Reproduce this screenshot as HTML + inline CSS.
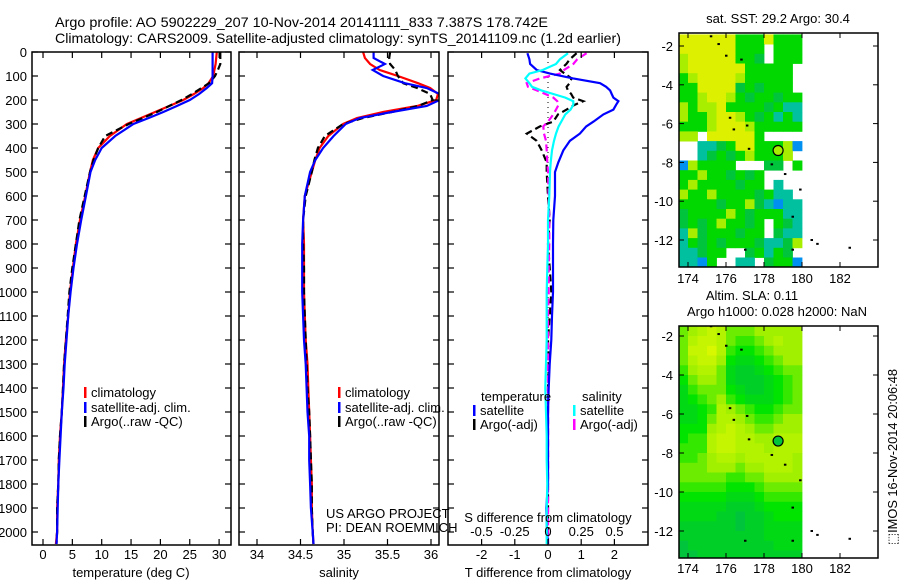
<!DOCTYPE html>
<html><head><meta charset="utf-8">
<style>
html,body{margin:0;padding:0;background:#fff;}
svg{display:block;font-family:"Liberation Sans",sans-serif;}
text{fill:#000;}
</style></head>
<body>
<svg id="fig" width="900" height="580" viewBox="0 0 900 580" xmlns="http://www.w3.org/2000/svg">
<defs>
<clipPath id="c1"><rect x="32" y="52" width="199" height="493"/></clipPath>
<clipPath id="c2"><rect x="239" y="52" width="200" height="493"/></clipPath>
<clipPath id="c3"><rect x="448" y="52" width="200" height="493"/></clipPath>
<clipPath id="cm1"><rect x="679" y="33" width="198" height="234"/></clipPath>
<clipPath id="cm2"><rect x="679" y="326" width="199" height="232"/></clipPath>
</defs>
<text x="55" y="27" font-size="14" textLength="493" lengthAdjust="spacingAndGlyphs">Argo profile: AO 5902229_207 10-Nov-2014 20141111_833 7.387S 178.742E</text>
<text x="55" y="43" font-size="14" textLength="566" lengthAdjust="spacingAndGlyphs">Climatology: CARS2009. Satellite-adjusted climatology: synTS_20141109.nc (1.2d earlier)</text>
<g id="g1"></g>
<g id="g2"></g>
<g id="g3"></g>
<g id="m1"></g>
<g id="m2"></g>
<text x="778" y="23" font-size="13" text-anchor="middle">sat. SST: 29.2 Argo: 30.4</text>
<text x="752" y="300" font-size="13" text-anchor="middle">Altim. SLA: 0.11</text>
<text x="777" y="316" font-size="13" text-anchor="middle">Argo h1000: 0.028 h2000: NaN</text>
<text transform="translate(897,545) rotate(-90)" font-size="13" textLength="176" lengthAdjust="spacingAndGlyphs">⬚IMOS 16-Nov-2014 20:06:48</text>
</svg>
<script>
// ---------- data ----------
const depths = [0,25,50,75,100,130,150,175,200,225,250,275,300,350,400,450,500,600,700,800,900,1000,1100,1200,1300,1400,1500,1600,1700,1800,1900,2000,2050];
const tempClim = [29.6,29.5,29.4,29.2,29.0,28.2,27.3,25.7,23.9,21.5,19.1,16.7,14.3,11.4,9.4,8.5,8.0,7.2,6.3,5.6,5.1,4.6,4.3,3.9,3.6,3.4,3.2,2.9,2.7,2.6,2.4,2.4,2.2];
const tempSat = [28.9,28.9,28.9,28.9,28.9,28.8,27.9,26.6,25.0,22.8,20.5,18.0,15.4,12.3,10.0,8.9,8.1,7.3,6.5,5.8,5.2,4.7,4.3,4.0,3.7,3.5,3.2,3.0,2.8,2.6,2.5,2.4,2.3];
const tempArgo = [30.2,30.2,30.2,29.8,29.3,28.3,27.0,25.4,23.6,21.5,19.4,17.0,14.6,10.6,9.4,8.6,8.0,7.1,6.2,5.6,5.0,4.5,4.2,3.9,3.6,3.4,3.2,2.9,2.7,2.6,2.4,2.4,2.3];
const salClim = [35.22,35.24,35.30,35.41,35.62,35.85,35.99,36.08,36.06,35.84,35.45,35.15,34.99,34.82,34.72,34.67,34.63,34.55,34.53,34.54,34.54,34.54,34.55,34.56,34.58,34.59,34.60,34.61,34.62,34.63,34.63,34.64,34.65];
const salSat = [35.34,35.34,35.47,35.33,35.45,35.70,35.95,36.10,36.10,35.95,35.55,35.18,35.02,34.88,34.76,34.67,34.61,34.55,34.53,34.52,34.52,34.52,34.53,34.54,34.56,34.57,34.58,34.60,34.60,34.61,34.62,34.64,34.65];
const salArgo = [35.53,35.52,35.53,35.59,35.62,35.68,35.84,35.99,36.02,35.85,35.55,35.22,34.99,34.78,34.70,34.66,34.63,34.56,34.53,34.53,34.54,34.54,34.55,34.56,34.57,34.58,34.60,34.61,34.62,34.63,34.63,34.64,34.65];
const dDepths = [5,30,50,75,90,110,130,145,160,175,190,205,220,240,260,290,310,340,370,410,460,500,600,700,800,900,1000,1100,1200,1300,1400,1500,1600,1700,1800,1900,2000,2050];
const dTempSat = [-0.62,-0.56,-0.54,-0.34,0.06,0.76,1.57,1.75,1.87,1.92,1.97,2.12,2.05,1.97,1.67,1.37,1.15,0.96,0.66,0.46,0.31,0.21,0.21,0.16,0.15,0.15,0.15,0.12,0.10,0.05,0.02,0.0,0.0,0.0,0.0,-0.05,-0.03,0.0];
const dTempArgo = [0.86,0.66,0.55,0.36,0.5,0.71,0.65,0.56,0.6,0.7,0.76,1.06,0.8,0.56,0.3,0.16,-0.24,-0.64,-0.34,-0.19,-0.04,-0.04,0.0,0.05,0.0,0.05,0.1,0.05,0.0,0.02,0.0,0.0,0.0,0.0,0.0,0.0,0.0,0.0];
const dSalSat = [0.15,0.09,0.06,-0.04,-0.14,-0.17,-0.14,-0.12,-0.05,0.04,0.13,0.19,0.19,0.17,0.13,0.10,0.08,0.06,0.045,0.03,0.02,0.015,0.01,0.0,0.0,-0.005,-0.01,-0.01,-0.01,-0.015,-0.02,-0.015,-0.01,-0.01,-0.005,-0.01,-0.01,-0.01];
const dSalArgo = [0.29,0.22,0.19,0.12,0.09,-0.06,-0.16,-0.15,-0.085,-0.02,0.04,0.07,0.08,0.06,0.04,0.0,-0.035,-0.03,-0.015,-0.01,-0.005,0.0,0.005,0.01,0.01,0.005,0.005,0.0,0.0,0.0,0.0,0.0,0.0,0.0,0.0,0.0,0.0,0.0];
const depthTicks = [0,100,200,300,400,500,600,700,800,900,1000,1100,1200,1300,1400,1500,1600,1700,1800,1900,2000];
const tempTicks = [0,5,10,15,20,25,30];
const salTicks = [34,34.5,35,35.5,36];
const dTTicks = [-2,-1,0,1,2];
const dSTicks = [-0.5,-0.25,0,0.25,0.5];
const lonTicks = [174,176,178,180,182];
const latTicks = [-2,-4,-6,-8,-10,-12];
const sstRows = ["YYYYYYGGGYGGG","YYYYYYGGG.GGG","LYYYYYGGg.GGG","LYYYYYYGGGGG.","GLYYYYLGGGGG.","GGYYYYgGgGGG.","GGLYYLGgGGgGG","LGLLYGGGGgGTT","LGGLYYLGgGTGT","GGGLYYYLGGGGG","LL.YYYYYG....","..TTgGYYGGGLB","..TgGgGLGGGL.","BLGGGG...gg.G","GGLGGgGgG....","GLGGGGgGG.T..","LGGLGGGGgGTT.","GGGGgGGLgTBTT","gGGGGLGgGGGTT","gGgGLGGgG.GgT","TLgGGGgGG.gTT","TGgGgGGGgTTgL","TTgGG..gGTGg.","TTBG..TT.gGGB"];
const sstColors = {Y:"#dcf000",L:"#a8ee00",G:"#00d800",g:"#00c43c",T:"#00c0a0",B:"#0090f0"};
const slaRows = ["5678755566666","5788754456766","5889743345666","5788632234566","4677521123455","3566521112345","2455532112345","2345643222345","2234765433455","2235776544566","3336787655666","3447887766777","4447887776777","4456776777776","5556665667776","5555544556666","4444433345555","3333322234444","2222211123333","2222110112333","1111110112222","1111111112222","0111111111222","0011111111111"];
const argoLon = 178.742, argoLat = -7.387;
const islandLons = [175.2,175.6,176,176.8,176.2,176.4,177.1,177.2,178.4,179.1,179.9,179.5,177.0,179.5,180.5,180.8,182.5];
const islandLats = [-1.5,-1.9,-2.5,-2.7,-5.7,-6.3,-6.1,-7.3,-8.1,-8.6,-9.4,-10.8,-12.5,-12.5,-12.0,-12.2,-12.4];

// ---------- helpers ----------
const NS="http://www.w3.org/2000/svg";
function mk(tag, attrs, parent){const e=document.createElementNS(NS,tag);for(const k in attrs)e.setAttribute(k,attrs[k]);parent.appendChild(e);return e;}
const yD = d => 52 + d*0.24;
const x1 = t => 43 + t*5.87;
const x2 = s => 257 + (s-34)*87;
const x3 = t => 548 + t*33.2;
const x3s = s => 548 + s*133;
const lonX = l => 688 + (l-174)*19;
const latY1 = la => 46 + (-2-la)*19.4;
const latY2 = la => 336 + (-2-la)*19.5;

function frame(g,x0,x1_,y0,y1,name){
  const r=mk('rect',{x:x0,y:y0,width:x1_-x0,height:y1-y0,fill:'none',stroke:'#000','stroke-width':1.5},g);
  
  
}
function depthAxis(g,x0,xr,labels){
  depthTicks.forEach(d=>{
    const y=yD(d);
    mk('line',{x1:x0,y1:y,x2:x0+6,y2:y,stroke:'#000','stroke-width':1.2},g);
    mk('line',{x1:xr-6,y1:y,x2:xr,y2:y,stroke:'#000','stroke-width':1.2},g);
    if(labels){const t=mk('text',{x:27,y:y+5,'font-size':13,'text-anchor':'end'},g);t.textContent=d;
      
      }
  });
}
function xAxis(g,ticks,fx,ly){
  ticks.forEach(v=>{
    const x=fx(v);
    mk('line',{x1:x,y1:545,x2:x,y2:539,stroke:'#000','stroke-width':1.2},g);
    mk('line',{x1:x,y1:52,x2:x,y2:58,stroke:'#000','stroke-width':1.2},g);
    const t=mk('text',{x:x,y:ly,'font-size':13,'text-anchor':'middle'},g);t.textContent=v;
    
    
  });
}
function line(g,xs,ds,fx,color,dash,clip,name,w){
  const pts=xs.map((v,i)=>fx(v).toFixed(1)+','+yD(ds[i]).toFixed(1)).join(' ');
  const p=mk('polyline',{points:pts,fill:'none',stroke:color,'stroke-width':w||2.2,'clip-path':'url(#'+clip+')'},g);
  if(dash)p.setAttribute('stroke-dasharray',dash);
  
  
}
function legend(g,x,y,color,label,name){
  mk('rect',{x:x,y:y-10,width:2.5,height:11,fill:color},g);
  const t=mk('text',{x:x+7,y:y,'font-size':13},g);t.textContent=label;
  
  
}
function txt(g,x,y,s,name,anchor){const t=mk('text',{x:x,y:y,'font-size':13,'text-anchor':anchor||'start'},g);t.textContent=s;
  
  return t;}

// ---------- panel 1 ----------
const g1=document.getElementById('g1');
line(g1,tempClim,depths,x1,'#ff0000',null,'c1','temp-climatology-line');
line(g1,tempArgo,depths,x1,'#000000','7,4','c1','temp-argo-line');
line(g1,tempSat,depths,x1,'#0000ff',null,'c1','temp-satellite-line');
frame(g1,32,231,52,545,'temp-plot-frame');
depthAxis(g1,32,231,true);
xAxis(g1,tempTicks,x1,559);
txt(g1,131,577,'temperature (deg C)','temp-x-axis-title','middle');
legend(g1,84,397,'#ff0000','climatology','legend-climatology');
legend(g1,84,412,'#0000ff','satellite-adj. clim.','legend-satellite');
legend(g1,84,426,'#000000','Argo(..raw -QC)','legend-argo');

// ---------- panel 2 ----------
const g2=document.getElementById('g2');
line(g2,salClim,depths,x2,'#ff0000',null,'c2','sal-climatology-line');
line(g2,salArgo,depths,x2,'#000000','7,4','c2','sal-argo-line');
line(g2,salSat,depths,x2,'#0000ff',null,'c2','sal-satellite-line');
frame(g2,239,439,52,545,'sal-plot-frame');
depthAxis(g2,239,439,false);
xAxis(g2,salTicks,x2,559);
txt(g2,339,577,'salinity','sal-x-axis-title','middle');
legend(g2,338,397,'#ff0000','climatology','legend-climatology-2');
legend(g2,338,412,'#0000ff','satellite-adj. clim.','legend-satellite-2');
legend(g2,338,426,'#000000','Argo(..raw -QC)','legend-argo-2');
txt(g2,326,518,'US ARGO PROJECT','project-credit');
txt(g2,326,532,'PI: DEAN ROEMMICH','pi-credit');

// ---------- panel 3 ----------
const g3=document.getElementById('g3');
const zl=mk('line',{x1:x3(0),y1:52,x2:x3(0),y2:545,stroke:'#000','stroke-width':1,'stroke-dasharray':'1,4'},g3);


line(g3,dTempArgo,dDepths,x3,'#000000','7,4','c3','dtemp-argo-line');
line(g3,dSalArgo,dDepths,x3s,'#ff00ff','7,4','c3','dsal-argo-line');
line(g3,dTempSat,dDepths,x3,'#0000ff',null,'c3','dtemp-satellite-line');
line(g3,dSalSat,dDepths,x3s,'#00ffff',null,'c3','dsal-satellite-line');
frame(g3,448,648,52,545,'diff-plot-frame');
depthAxis(g3,448,648,false);
dTTicks.forEach(v=>{const x=x3(v);
  mk('line',{x1:x,y1:545,x2:x,y2:539,stroke:'#000','stroke-width':1.2},g3);
  mk('line',{x1:x,y1:52,x2:x,y2:58,stroke:'#000','stroke-width':1.2},g3);
  txt(g3,x,559,String(v),'dt-tick-label','middle');});
dSTicks.forEach(v=>{txt(g3,x3s(v),536,String(v),'ds-tick-label','middle');});
txt(g3,548,522,'S difference from climatology','s-diff-axis-title','middle');
txt(g3,548,577,'T difference from climatology','t-diff-axis-title','middle');
txt(g3,481,401,'temperature','legend-temperature-header');
txt(g3,582,401,'salinity','legend-salinity-header');
legend(g3,473,415,'#0000ff','satellite','legend-t-satellite');
legend(g3,473,429,'#000000','Argo(-adj)','legend-t-argo');
legend(g3,573,415,'#00ffff','satellite','legend-s-satellite');
legend(g3,573,429,'#ff00ff','Argo(-adj)','legend-s-argo');

// ---------- maps ----------
function slaColor(v){
  const stops=[[0,[0,196,60]],[3,[0,228,0]],[6,[160,240,0]],[9,[216,248,0]]];
  for(let i=0;i<stops.length-1;i++){const a=stops[i],b=stops[i+1];
    if(v<=b[0]){const f=(v-a[0])/(b[0]-a[0]);return 'rgb('+a[1].map((c,j)=>Math.round(c+(b[1][j]-c)*f)).join(',')+')';}}
  return 'rgb(216,248,0)';
}
function map(gid,rows,latY,colorFn,lat0,clip,y0,y1,labY,cellName){
  const g=document.getElementById(gid);
  const cg=mk('g',{'clip-path':'url(#'+clip+')'},g);
  rows.forEach((row,i)=>{
    for(let j=0;j<row.length;j++){
      const ch=row[j]; if(ch==='.')continue;
      const lonL=173.5+j*0.5, latT=lat0-i*0.5;
      const x=lonX(lonL), y=latY(latT);
      const w=lonX(lonL+0.5)-x+0.4, h=latY(latT-0.5)-y+0.4;
      const r=mk('rect',{x:x.toFixed(1),y:y.toFixed(1),width:w.toFixed(1),height:h.toFixed(1),fill:colorFn(ch)},cg);
      
      
    }
  });
  islandLons.forEach((lo,k)=>{
    const d=mk('rect',{x:lonX(lo)-1,y:latY(islandLats[k])-1,width:2.5,height:2,fill:'#000'},cg);
    
    
  });
  const c=mk('circle',{cx:lonX(argoLon),cy:latY(argoLat),r:5,fill:gid==='m1'?'#a8ee00':'#00c43c',stroke:'#000','stroke-width':1.2},g);
  
  
  frame(g,679,878,y0,y1,gid+'-frame');
  latTicks.forEach(la=>{const y=latY(la);
    mk('line',{x1:679,y1:y,x2:684,y2:y,stroke:'#000'},g);
    mk('line',{x1:873,y1:y,x2:878,y2:y,stroke:'#000'},g);
    txt(g,673,y+5,String(la),'lat-tick-label','end');});
  lonTicks.forEach(lo=>{const x=lonX(lo);
    mk('line',{x1:x,y1:y0,x2:x,y2:y0+5,stroke:'#000'},g);
    mk('line',{x1:x,y1:y1,x2:x,y2:y1-5,stroke:'#000'},g);
    txt(g,x,labY,String(lo),'lon-tick-label','middle');});
}
map('m1',sstRows,latY1,ch=>sstColors[ch],-1.4,'cm1',33,267,283,'sst-cell');
map('m2',slaRows,latY2,ch=>slaColor(+ch),-1.5,'cm2',326,558,573,'sla-cell');
</script>
</body></html>
